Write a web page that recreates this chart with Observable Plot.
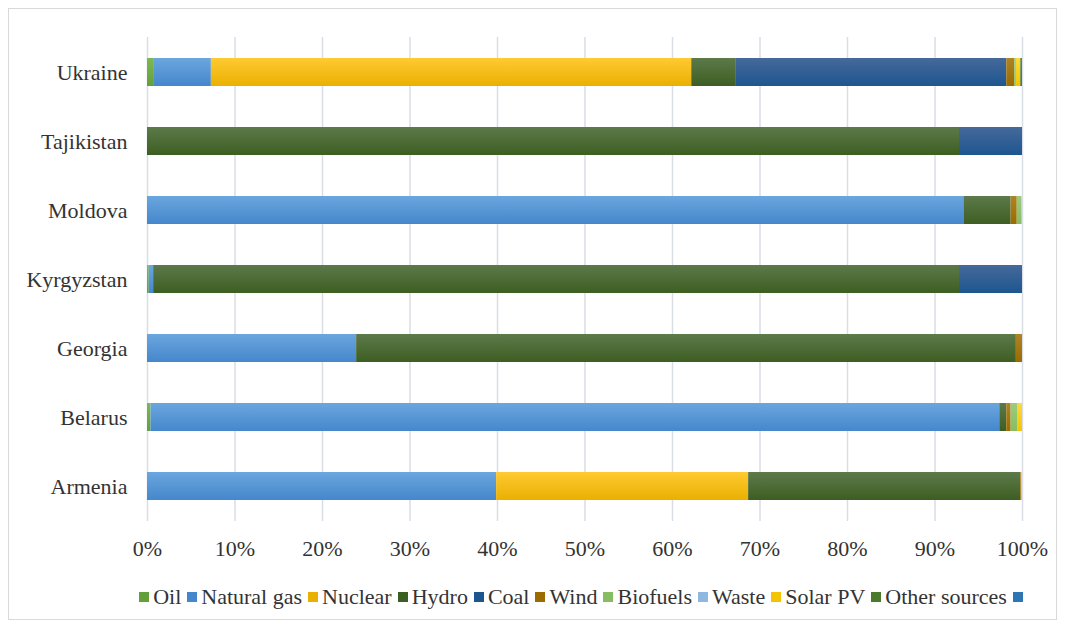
<!DOCTYPE html>
<html>
<head>
<meta charset="utf-8">
<script src="https://cdn.jsdelivr.net/npm/d3@7"></script>
<script src="https://cdn.jsdelivr.net/npm/@observablehq/plot@0.6"></script>
<style>
  body { margin: 0; background: #fff; }
  #frame { position: absolute; left: 8px; top: 8px; width: 1049px; height: 612px; border: 1px solid #d9d9d9; box-sizing: border-box; }
  #chart { position: absolute; left: 0; top: 0; }
  #legend { position: absolute; left: 0; width: 1172px; top: 584px; display: flex; justify-content: center; font-family: "Liberation Serif", serif; font-size: 22px; color: #333; }
  #legend span.item { display: inline-flex; align-items: center; margin-right: 6px; white-space: nowrap; }
  #legend span.sw { display: inline-block; width: 10px; height: 10px; margin-right: 4px; }
</style>
</head>
<body>
<div id="frame"></div>
<div id="chart"></div>
<div id="legend"></div>
<script>
// countries, top to bottom
const countries = ["Ukraine", "Tajikistan", "Moldova", "Kyrgyzstan", "Georgia", "Belarus", "Armenia"];
const sources = ["Oil", "Natural gas", "Nuclear", "Hydro", "Coal", "Wind", "Biofuels", "Waste", "Solar PV", "Other sources"];

// share of electricity generation (%), same order as countries
const oil        = [0.7, 0,    0,    0.2,  0,    0.4,  0];
const naturalGas = [6.6, 0,    93.3, 0.5,  23.9, 97.0, 39.9];
const nuclear    = [54.9, 0,   0,    0,    0,    0,    28.8];
const hydro      = [5.1, 92.8, 5.4,  92.1, 75.4, 0.8,  31.1];
const coal       = [30.9, 7.2, 0,    7.2,  0,    0,    0];
const wind       = [0.9, 0,    0.7,  0,    0.7,  0.5,  0.1];
const biofuels   = [0.2, 0,    0.5,  0,    0,    0.8,  0];
const waste      = [0,   0,    0,    0,    0,    0,    0];
const solarPV    = [0.5, 0,    0.1,  0,    0,    0.5,  0.1];
const other      = [0.2, 0,    0,    0,    0,    0,    0];

const xTicks = [0, 10, 20, 30, 40, 50, 60, 70, 80, 90, 100];

const series = [oil, naturalGas, nuclear, hydro, coal, wind, biofuels, waste, solarPV, other];
// [top, bottom] gradient colours per source
const colors = [
  ["#7cb853", "#63a03a"],
  ["#6ba6de", "#4587cc"],
  ["#ffca33", "#eab000"],
  ["#5c7a4a", "#3d5e22"],
  ["#46699b", "#1d568f"],
  ["#ae8426", "#9c6b00"],
  ["#9ccc7c", "#86bd62"],
  ["#a6c9ea", "#8db8e0"],
  ["#ffd83d", "#f5c400"],
  ["#5e8c3e", "#4a7a2c"]
];
const legendExtra = "#2e75b6";

const rows = [];
countries.forEach((c, i) => {
  sources.forEach((s, j) => {
    if (series[j][i] > 0) rows.push({country: c, source: s, value: series[j][i]});
  });
});

const plot = Plot.plot({
  width: 1066,
  height: 561,
  marginTop: 37,
  marginBottom: 40,
  marginLeft: 147,
  marginRight: 44,
  style: {fontFamily: "Liberation Serif, serif", fontSize: "22px", color: "#333"},
  x: {domain: [0, 100], label: null},
  y: {domain: countries, paddingInner: 0.6, paddingOuter: 0.3, label: null},
  color: {domain: sources, range: sources.map((s, i) => `url(#g${i})`)},
  marks: [
    Plot.gridX(xTicks, {stroke: "#d9dde6", strokeOpacity: 1, strokeWidth: 1.5}),
    Plot.barX(rows, {x: "value", y: "country", fill: "source", order: sources}),
    Plot.axisX({ticks: xTicks, tickFormat: d => d + "%", tickSize: 0, tickPadding: 19, label: null, fontSize: 22}),
    Plot.axisY({tickSize: 0, tickPadding: 20, label: null, fontSize: 22})
  ]
});

const defs = d3.select(plot).insert("defs", ":first-child");
colors.forEach((c, i) => {
  const g = defs.append("linearGradient").attr("id", `g${i}`).attr("x1", 0).attr("y1", 0).attr("x2", 0).attr("y2", 1);
  g.append("stop").attr("offset", "0%").attr("stop-color", c[0]);
  g.append("stop").attr("offset", "100%").attr("stop-color", c[1]);
});

document.querySelector("#chart").append(plot);

const legend = document.querySelector("#legend");
sources.forEach((s, i) => {
  legend.insertAdjacentHTML("beforeend",
    `<span class="item"><span class="sw" style="background:${colors[i][1]}"></span>${s}</span>`);
});
legend.insertAdjacentHTML("beforeend",
  `<span class="item"><span class="sw" style="background:${legendExtra}"></span></span>`);
</script>
</body>
</html>
